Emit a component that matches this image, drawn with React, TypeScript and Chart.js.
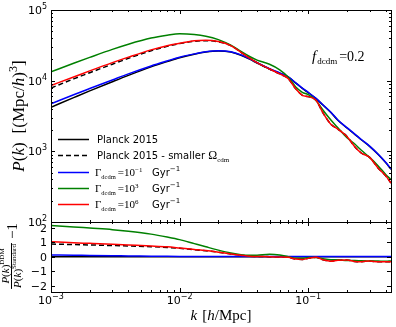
import React, { useEffect, useRef } from 'react';
import { Chart, registerables } from 'chart.js';
Chart.register(...registerables);

// ---------- data ----------
const kValues = [0.001, 0.0015, 0.002, 0.003, 0.004, 0.006, 0.008, 0.01, 0.013, 0.016, 0.02, 0.025, 0.03, 0.035, 0.04, 0.05, 0.06, 0.07, 0.08, 0.09, 0.1, 0.115, 0.13, 0.15, 0.17, 0.2, 0.23, 0.26, 0.3, 0.35, 0.4, 0.44];

const pkPlanck = [4210, 5750, 7160, 9660, 11890, 15670, 18620, 21130, 23710, 25410, 26300, 25410, 22910, 20180, 17780, 14620, 12740, 11220, 9230, 7760, 6760, 5560, 4520, 3548, 2754, 2138, 1738, 1445, 1175, 902, 692, 556];
const pkSmallerOmega = [7870, 10590, 12970, 17100, 20700, 26490, 30550, 33420, 36060, 36810, 35480, 31260, 25180, 20800, 17950, 14620, 12470, 10660, 7660, 6210, 5950, 5284, 3524, 2415, 2065, 1626, 1164, 940, 822, 577, 450, 356];
const pkGammaM1 = [4710, 6320, 7730, 10230, 12470, 16140, 19010, 21480, 23930, 25660, 26560, 25660, 23140, 20380, 17960, 14770, 12870, 11330, 9320, 7840, 6830, 5620, 4570, 3580, 2780, 2160, 1755, 1459, 1187, 911, 699, 562];
const pkGamma3 = [13300, 17620, 21330, 27730, 32810, 40090, 43950, 46130, 45080, 42660, 38110, 31770, 25880, 21980, 19540, 17100, 14260, 11220, 8128, 6839, 6353, 5224, 3837, 2767, 2148, 1560, 1268, 1026, 822, 622, 471, 398];
const pkGamma6 = [8550, 11270, 13740, 17990, 21530, 27290, 31260, 33810, 36730, 37330, 35730, 31260, 25180, 20800, 17950, 14620, 12470, 10660, 7660, 6210, 5950, 5284, 3524, 2415, 2065, 1626, 1164, 940, 822, 577, 450, 356];

const ratioPlanckK = [0.001, 0.44];
const ratioPlanck = [0, 0];
const ratioSmallerOmega = [0.87, 0.84, 0.81, 0.77, 0.74, 0.69, 0.64, 0.58, 0.48, 0.41, 0.31, 0.19, 0.1, 0.03, 0.01, 0.0, -0.02, -0.05, -0.17, -0.2, -0.12, -0.05, -0.22, -0.32, -0.25, -0.24, -0.33, -0.35, -0.3, -0.36, -0.35, -0.36];
const ratioGammaM1 = [0.12, 0.1, 0.08, 0.06, 0.05, 0.03, 0.02, 0.015, 0.01, 0.01, 0.01, 0.01, 0.01, 0.01, 0.01, 0.01, 0.01, 0.01, 0.01, 0.01, 0.01, 0.01, 0.01, 0.01, 0.01, 0.01, 0.01, 0.01, 0.01, 0.01, 0.01, 0.01];
const ratioGamma3 = [2.16, 2.06, 1.98, 1.87, 1.76, 1.56, 1.36, 1.18, 0.9, 0.68, 0.45, 0.25, 0.13, 0.09, 0.1, 0.17, 0.12, 0.0, -0.12, -0.12, -0.06, -0.06, -0.15, -0.22, -0.22, -0.27, -0.27, -0.29, -0.3, -0.31, -0.32, -0.3];
const ratioGamma6 = [1.03, 0.96, 0.92, 0.86, 0.81, 0.74, 0.68, 0.6, 0.5, 0.42, 0.31, 0.19, 0.1, 0.03, 0.01, 0.0, -0.02, -0.05, -0.17, -0.2, -0.12, -0.05, -0.22, -0.32, -0.25, -0.24, -0.33, -0.35, -0.3, -0.36, -0.35, -0.36];

const topYDecades = [2, 3, 4, 5];
const xDecades = [-3, -2, -1];
const bottomYTicks = [2, 1, 0, -1, -2];
const bottomYTickLabels = ['2', '1', '0', '\u22121', '\u22122'];
const legendGammaExponents = ['\u22121', '3', '6'];

// ---------- styles ----------
const BLUE = '#0000ff';
const GREEN = '#008000';
const RED = '#ff0000';
const BLACK = '#000000';
const SANS = '"DejaVu Sans", sans-serif';
const SERIF = '"Liberation Serif", serif';
const fnt = (size: number, fam: string, style = '') => `${style} ${size}px ${fam}`.trim();

type Seg = { t: string; font: string; dy?: number; gap?: number };

function segWidth(ctx: CanvasRenderingContext2D, segs: Seg[]) {
  let w = 0;
  for (const s of segs) {
    ctx.font = s.font;
    w += ctx.measureText(s.t).width + (s.gap || 0);
  }
  return w;
}

function drawRich(ctx: CanvasRenderingContext2D, segs: Seg[], x: number, y: number, align: 'left' | 'center' | 'right' = 'left') {
  const w = segWidth(ctx, segs);
  let cx = align === 'left' ? x : align === 'center' ? x - w / 2 : x - w;
  ctx.textAlign = 'left';
  ctx.textBaseline = 'alphabetic';
  for (const s of segs) {
    ctx.font = s.font;
    ctx.fillText(s.t, cx, y + (s.dy || 0));
    cx += ctx.measureText(s.t).width + (s.gap || 0);
  }
  return w;
}

function pts(xs: number[], ys: number[]) {
  return xs.map((x, i) => ({ x, y: ys[i] }));
}

function xMinorValues(max: number) {
  const out: number[] = [];
  for (const d of xDecades) {
    for (let m = 2; m <= 9; m++) {
      const v = m * Math.pow(10, d);
      if (v <= max) out.push(v);
    }
  }
  return out;
}

function drawFrameAndXTicks(chart: any) {
  const ctx: CanvasRenderingContext2D = chart.ctx;
  const { left, right, top, bottom } = chart.chartArea;
  const xs = chart.scales.x;
  ctx.save();
  ctx.strokeStyle = BLACK;
  ctx.lineWidth = 1;
  ctx.strokeRect(Math.round(left) + 0.5, Math.round(top) + 0.5, Math.round(right - left), Math.round(bottom - top));
  const tick = (px: number, len: number) => {
    const x = Math.round(px) + 0.5;
    ctx.beginPath();
    ctx.moveTo(x, bottom);
    ctx.lineTo(x, bottom - len);
    ctx.moveTo(x, top);
    ctx.lineTo(x, top + len);
    ctx.stroke();
  };
  for (const d of xDecades) tick(xs.getPixelForValue(Math.pow(10, d)), 4);
  for (const v of xMinorValues(xs.max)) tick(xs.getPixelForValue(v), 2);
  ctx.restore();
}

function yTick(ctx: CanvasRenderingContext2D, left: number, right: number, py: number, len: number) {
  const y = Math.round(py) + 0.5;
  ctx.beginPath();
  ctx.moveTo(left, y);
  ctx.lineTo(left + len, y);
  ctx.moveTo(right, y);
  ctx.lineTo(right - len, y);
  ctx.stroke();
}

const topDecor = {
  id: 'topDecor',
  afterDraw(chart: any) {
    const ctx: CanvasRenderingContext2D = chart.ctx;
    const { left, right } = chart.chartArea;
    const ys = chart.scales.y;
    drawFrameAndXTicks(chart);
    ctx.save();
    ctx.strokeStyle = BLACK;
    ctx.fillStyle = BLACK;
    ctx.lineWidth = 1;
    for (const d of topYDecades) {
      yTick(ctx, left, right, ys.getPixelForValue(Math.pow(10, d)), 4);
      if (d < 5) {
        for (let m = 2; m <= 9; m++) yTick(ctx, left, right, ys.getPixelForValue(m * Math.pow(10, d)), 2);
      }
      const py = ys.getPixelForValue(Math.pow(10, d));
      drawRich(ctx, [
        { t: '10', font: fnt(11, SANS) },
        { t: String(d), font: fnt(8, SANS), dy: -5 },
      ], left - 4, py + 4, 'right');
    }

    // y label
    ctx.save();
    ctx.translate(24, 116);
    ctx.rotate(-Math.PI / 2);
    drawRich(ctx, [
      { t: 'P', font: fnt(17, SERIF, 'italic') },
      { t: '(', font: fnt(17, SERIF) },
      { t: 'k', font: fnt(17, SERIF, 'italic') },
      { t: ')', font: fnt(17, SERIF), gap: 9 },
      { t: '[(Mpc/', font: fnt(17, SERIF) },
      { t: 'h', font: fnt(17, SERIF, 'italic') },
      { t: ')', font: fnt(17, SERIF) },
      { t: '3', font: fnt(12, SERIF), dy: -7 },
      { t: ']', font: fnt(17, SERIF) },
    ], 0, 0, 'center');
    ctx.restore();

    // annotation
    drawRich(ctx, [
      { t: 'f', font: fnt(15, SERIF, 'italic'), gap: 1 },
      { t: 'dcdm', font: fnt(9, SERIF), dy: 3, gap: 2 },
      { t: '=0.2', font: fnt(14, SERIF) },
    ], 312, 61, 'left');

    // legend
    const rows = [
      { y: 139, color: BLACK, dash: [] as number[] },
      { y: 155, color: BLACK, dash: [5, 3] },
      { y: 172, color: BLUE, dash: [] as number[] },
      { y: 188, color: GREEN, dash: [] as number[] },
      { y: 204, color: RED, dash: [] as number[] },
    ];
    rows.forEach((r) => {
      ctx.save();
      ctx.strokeStyle = r.color;
      ctx.lineWidth = 1.5;
      ctx.setLineDash(r.dash);
      ctx.beginPath();
      ctx.moveTo(58, r.y + 0.5);
      ctx.lineTo(89, r.y + 0.5);
      ctx.stroke();
      ctx.restore();
    });
    ctx.fillStyle = BLACK;
    drawRich(ctx, [{ t: 'Planck 2015', font: fnt(10, SANS) }], 97, 143);
    drawRich(ctx, [
      { t: 'Planck 2015 - smaller ', font: fnt(10, SANS) },
      { t: '\u03A9', font: fnt(12, SERIF) },
      { t: 'cdm', font: fnt(7, SERIF), dy: 3 },
    ], 97, 159);
    legendGammaExponents.forEach((exp, i) => {
      const y = rows[i + 2].y + 4;
      const w = drawRich(ctx, [
        { t: '\u0393', font: fnt(11, SERIF) },
        { t: 'dcdm', font: fnt(6.5, SERIF), dy: 2.5, gap: 2 },
        { t: '=10', font: fnt(11, SERIF) },
        { t: exp, font: fnt(7, SERIF), dy: -4.5 },
      ], 95, y);
      drawRich(ctx, [
        { t: 'Gyr', font: fnt(10, SANS) },
        { t: '\u22121', font: fnt(7, SANS), dy: -5 },
      ], Math.max(152, 95 + w + 8), y);
    });
    ctx.restore();
  },
};

const bottomDecor = {
  id: 'bottomDecor',
  afterDraw(chart: any) {
    const ctx: CanvasRenderingContext2D = chart.ctx;
    const { left, right, bottom } = chart.chartArea;
    const ys = chart.scales.y;
    const xs = chart.scales.x;
    drawFrameAndXTicks(chart);
    ctx.save();
    ctx.strokeStyle = BLACK;
    ctx.fillStyle = BLACK;
    ctx.lineWidth = 1;
    bottomYTicks.forEach((v, i) => {
      const py = ys.getPixelForValue(v);
      yTick(ctx, left, right, py, 4);
      drawRich(ctx, [{ t: bottomYTickLabels[i], font: fnt(11, SANS) }], left - 4, py + 4, 'right');
    });
    for (const d of xDecades) {
      const px = xs.getPixelForValue(Math.pow(10, d));
      drawRich(ctx, [
        { t: '10', font: fnt(11, SANS) },
        { t: '\u2212' + String(-d), font: fnt(8, SANS), dy: -5 },
      ], px, bottom + 12, 'center');
    }
    // x label
    drawRich(ctx, [
      { t: 'k', font: fnt(15, SERIF, 'italic'), gap: 5 },
      { t: '[', font: fnt(15, SERIF) },
      { t: 'h', font: fnt(15, SERIF, 'italic') },
      { t: '/Mpc]', font: fnt(15, SERIF) },
    ], (left + right) / 2, bottom + 28, 'center');

    // y label (fraction)
    ctx.save();
    ctx.translate(11.5, 256);
    ctx.rotate(-Math.PI / 2);
    const num: Seg[] = [
      { t: 'P', font: fnt(11, SERIF, 'italic') },
      { t: '(', font: fnt(11, SERIF) },
      { t: 'k', font: fnt(11, SERIF, 'italic') },
      { t: ')', font: fnt(11, SERIF) },
      { t: 'DDM', font: fnt(7, SERIF), dy: -5 },
    ];
    const den: Seg[] = [
      { t: 'P', font: fnt(11, SERIF, 'italic') },
      { t: '(', font: fnt(11, SERIF) },
      { t: 'k', font: fnt(11, SERIF, 'italic') },
      { t: ')', font: fnt(11, SERIF) },
      { t: 'Standard', font: fnt(7, SERIF), dy: -5 },
    ];
    const minus: Seg[] = [{ t: '\u22121', font: fnt(15, SERIF) }];
    const wN = segWidth(ctx, num);
    const wD = segWidth(ctx, den);
    const wB = Math.max(wN, wD) + 2;
    const wM = segWidth(ctx, minus);
    const W = wB + 4 + wM;
    const u0 = -W / 2;
    drawRich(ctx, num, u0 + wB / 2, -2.5, 'center');
    ctx.fillRect(u0, -0.5, wB, 1);
    drawRich(ctx, den, u0 + wB / 2, 9, 'center');
    drawRich(ctx, minus, u0 + wB + 4, 5, 'left');
    ctx.restore();
    ctx.restore();
  },
};

function lineDs(data: any[], color: string, dash: number[] = [], width = 1.5) {
  return {
    data,
    borderColor: color,
    backgroundColor: color,
    borderWidth: width,
    borderDash: dash,
    pointRadius: 0,
    cubicInterpolationMode: 'monotone',
    fill: false,
  };
}

function topConfig(): any {
  return {
    type: 'line',
    data: {
      datasets: [
        lineDs(pts(kValues, pkGamma6), RED),
        lineDs(pts(kValues, pkGamma3), GREEN),
        lineDs(pts(kValues, pkGammaM1), BLUE),
        lineDs(pts(kValues, pkSmallerOmega), BLACK, [5, 3]),
        lineDs(pts(kValues, pkPlanck), BLACK),
      ],
    },
    options: {
      animation: false,
      responsive: false,
      maintainAspectRatio: false,
      events: [],
      layout: { padding: { left: 51, top: 10, right: 5, bottom: 105 } },
      plugins: { legend: { display: false }, tooltip: { enabled: false } },
      scales: {
        x: { type: 'logarithmic', min: 0.001, max: 0.44, display: false },
        y: { type: 'logarithmic', min: 100, max: 100000, display: false },
      },
    },
    plugins: [topDecor],
  };
}

function bottomConfig(): any {
  return {
    type: 'line',
    data: {
      datasets: [
        lineDs(pts(kValues, ratioGamma6), RED),
        lineDs(pts(kValues, ratioGamma3), GREEN),
        lineDs(pts(kValues, ratioGammaM1), BLUE),
        lineDs(pts(kValues, ratioSmallerOmega), BLACK, [5, 3]),
        lineDs(pts(ratioPlanckK, ratioPlanck), BLACK),
      ],
    },
    options: {
      animation: false,
      responsive: false,
      maintainAspectRatio: false,
      events: [],
      layout: { padding: { left: 51, top: 222, right: 5, bottom: 35 } },
      plugins: { legend: { display: false }, tooltip: { enabled: false } },
      scales: {
        x: { type: 'logarithmic', min: 0.001, max: 0.44, display: false },
        y: { type: 'linear', min: -2.45, max: 2.4, display: false },
      },
    },
    plugins: [bottomDecor],
  };
}

export default function App() {
  const topRef = useRef<HTMLCanvasElement>(null);
  const botRef = useRef<HTMLCanvasElement>(null);
  useEffect(() => {
    const top = new Chart(topRef.current as HTMLCanvasElement, topConfig());
    const bot = new Chart(botRef.current as HTMLCanvasElement, bottomConfig());
    return () => {
      top.destroy();
      bot.destroy();
    };
  }, []);
  return (
    <div style={{ position: 'absolute', left: 0, top: 0, width: 396, height: 327, background: '#ffffff' }}>
      <canvas ref={topRef} width={396} height={327} style={{ position: 'absolute', left: 0, top: 0 }} />
      <canvas ref={botRef} width={396} height={327} style={{ position: 'absolute', left: 0, top: 0 }} />
    </div>
  );
}
